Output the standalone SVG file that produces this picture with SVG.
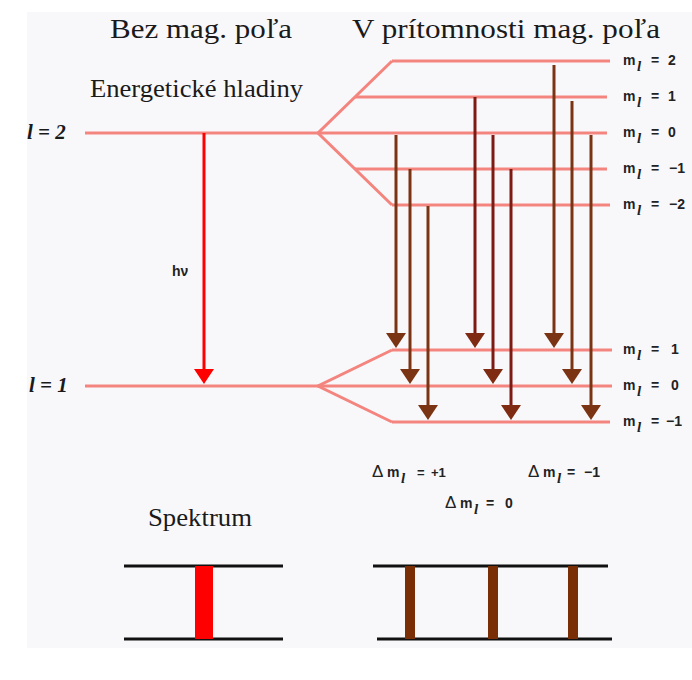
<svg xmlns="http://www.w3.org/2000/svg" width="692" height="680" viewBox="0 0 692 680">
<style>
.lvl{stroke:#f4847e;stroke-width:3;fill:none}
.title{font-family:"Liberation Serif",serif;font-size:28px;fill:#1a1a1a}
.serif{font-family:"Liberation Serif",serif;fill:#1a1a1a}
.lbl{font-family:"Liberation Sans",Arial,sans-serif;font-size:14px;font-weight:bold;fill:#222}
.sub{font-family:"Liberation Serif",serif;font-style:italic;font-weight:bold;font-size:15px}
.br{stroke:#7b3413;stroke-width:3}
.dr{stroke:#7d1a12;stroke-width:3}
.blk{stroke:#111;stroke-width:3}
</style>
<defs>
<marker id="hb" markerUnits="userSpaceOnUse" markerWidth="20" markerHeight="20" refX="7" refY="10" orient="auto">
<path d="M0,0 L15,10 L0,20 Z" fill="#7b3413"/>
</marker>
<marker id="hd" markerUnits="userSpaceOnUse" markerWidth="20" markerHeight="20" refX="7" refY="10" orient="auto">
<path d="M0,0 L15,10 L0,20 Z" fill="#7f2a12"/>
</marker>
<marker id="hr" markerUnits="userSpaceOnUse" markerWidth="20" markerHeight="20" refX="7" refY="10" orient="auto">
<path d="M0,0 L15,10 L0,20 Z" fill="#ff0000"/>
</marker>
</defs>
<rect x="0" y="0" width="692" height="680" fill="#ffffff"/>
<rect x="27" y="12" width="665" height="636" fill="#f8f8fb"/>

<g id="titles">
<text class="title" x="110" y="38" textLength="182" lengthAdjust="spacingAndGlyphs">Bez mag. poľa</text>
<text class="title" x="352" y="38" textLength="308" lengthAdjust="spacingAndGlyphs">V prítomnosti mag. poľa</text>
<text class="serif" x="90" y="97" font-size="25" textLength="213" lengthAdjust="spacingAndGlyphs">Energetické hladiny</text>
</g>

<g id="level-l2">
<line class="lvl" x1="85" y1="133" x2="607" y2="133"/>
<text class="serif" x="27" y="139" font-size="21" font-style="italic" font-weight="bold">l = 2</text>
</g>
<g id="level-l1">
<line class="lvl" x1="85" y1="386" x2="612" y2="386"/>
<text class="serif" x="29" y="392" font-size="21" font-style="italic" font-weight="bold">l = 1</text>
</g>

<g id="sublevels-upper">
<polyline class="lvl" points="392,61 318,133 392,205"/>
<line class="lvl" x1="392" y1="61" x2="610" y2="61"/>
<line class="lvl" x1="355" y1="97" x2="607" y2="97"/>
<line class="lvl" x1="355" y1="169" x2="607" y2="169"/>
<line class="lvl" x1="392" y1="205" x2="610" y2="205"/>
<text class="lbl" y="65"><tspan x="623">m</tspan><tspan class="sub" x="637" dy="6">l</tspan><tspan x="651" dy="-6">=</tspan><tspan x="668">2</tspan></text>
<text class="lbl" y="101"><tspan x="623">m</tspan><tspan class="sub" x="637" dy="6">l</tspan><tspan x="651" dy="-6">=</tspan><tspan x="668">1</tspan></text>
<text class="lbl" y="137"><tspan x="623">m</tspan><tspan class="sub" x="637" dy="6">l</tspan><tspan x="651" dy="-6">=</tspan><tspan x="668">0</tspan></text>
<text class="lbl" y="173"><tspan x="623">m</tspan><tspan class="sub" x="637" dy="6">l</tspan><tspan x="651" dy="-6">=</tspan><tspan x="669">−1</tspan></text>
<text class="lbl" y="209"><tspan x="623">m</tspan><tspan class="sub" x="637" dy="6">l</tspan><tspan x="651" dy="-6">=</tspan><tspan x="669">−2</tspan></text>
</g>

<g id="sublevels-lower">
<polyline class="lvl" points="392,350 318,386 392,422"/>
<line class="lvl" x1="392" y1="350" x2="612" y2="350"/>
<line class="lvl" x1="392" y1="422" x2="610" y2="422"/>
<text class="lbl" y="354"><tspan x="623">m</tspan><tspan class="sub" x="637" dy="6">l</tspan><tspan x="651" dy="-6">=</tspan><tspan x="671">1</tspan></text>
<text class="lbl" y="390"><tspan x="623">m</tspan><tspan class="sub" x="637" dy="6">l</tspan><tspan x="651" dy="-6">=</tspan><tspan x="671">0</tspan></text>
<text class="lbl" y="426"><tspan x="623">m</tspan><tspan class="sub" x="637" dy="6">l</tspan><tspan x="651" dy="-6">=</tspan><tspan x="666">−1</tspan></text>
</g>

<g id="connectors">
<line x1="204" y1="133" x2="204" y2="376" stroke="#ff0000" stroke-width="3" marker-end="url(#hr)"/>
<line class="br" x1="396" y1="135" x2="396" y2="340" marker-end="url(#hb)"/>
<line class="br" x1="410" y1="169" x2="410" y2="376" marker-end="url(#hb)"/>
<line class="br" x1="428" y1="206" x2="428" y2="412" marker-end="url(#hb)"/>
<line class="dr" x1="475" y1="97" x2="475" y2="340" marker-end="url(#hd)"/>
<line class="dr" x1="493" y1="135" x2="493" y2="376" marker-end="url(#hd)"/>
<line class="dr" x1="511" y1="169" x2="511" y2="412" marker-end="url(#hd)"/>
<line class="br" x1="554" y1="65" x2="554" y2="340" marker-end="url(#hb)"/>
<line class="br" x1="572" y1="101" x2="572" y2="376" marker-end="url(#hb)"/>
<line class="br" x1="591" y1="135" x2="591" y2="412" marker-end="url(#hb)"/>
</g>

<g id="hv-label">
<text class="lbl" x="172" y="276" font-size="14">hν</text>
</g>

<g id="delta-labels">
<text class="lbl" y="477"><tspan x="372" font-size="17" font-weight="normal">Δ</tspan><tspan x="387">m</tspan><tspan class="sub" x="401" dy="6">l</tspan><tspan x="417" dy="-6" font-size="13">=</tspan><tspan x="431" font-size="13">+1</tspan></text>
<text class="lbl" y="477"><tspan x="528" font-size="17" font-weight="normal">Δ</tspan><tspan x="543">m</tspan><tspan class="sub" x="557" dy="6">l</tspan><tspan x="567" dy="-6">=</tspan><tspan x="584">−1</tspan></text>
<text class="lbl" y="508"><tspan x="445" font-size="17" font-weight="normal">Δ</tspan><tspan x="460">m</tspan><tspan class="sub" x="474" dy="6">l</tspan><tspan x="486" dy="-6">=</tspan><tspan x="505">0</tspan></text>
</g>

<g id="spectrum-plain">
<text class="serif" x="148" y="526" font-size="25" textLength="104" lengthAdjust="spacingAndGlyphs">Spektrum</text>
<line class="blk" x1="124" y1="566" x2="283" y2="566"/>
<line class="blk" x1="124" y1="639" x2="283" y2="639"/>
<rect x="195" y="566" width="18" height="73" fill="#ff0000"/>
</g>

<g id="spectrum-zeeman">
<line class="blk" x1="373" y1="566" x2="608" y2="566"/>
<line class="blk" x1="377" y1="639" x2="612" y2="639"/>
<rect x="405" y="566" width="10" height="73" fill="#7a2e05"/>
<rect x="488" y="566" width="10" height="73" fill="#7a2e05"/>
<rect x="568" y="566" width="10" height="73" fill="#7a2e05"/>
</g>
</svg>
